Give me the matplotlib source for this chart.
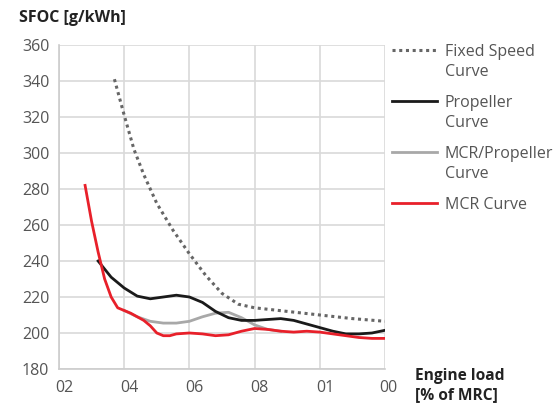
import matplotlib
matplotlib.use("Agg")
import matplotlib.pyplot as plt
from matplotlib.lines import Line2D
import matplotlib.transforms as mtransforms

plt.rcParams["font.family"] = ["Open Sans", "DejaVu Sans"]

# Data
fixed_x = [37, 40, 43, 46, 50, 55, 60, 65, 70, 75, 80, 90, 100, 110, 120]
fixed_y = [341, 321, 302, 288, 272, 257, 244, 232, 222, 216, 214, 212, 210, 208, 206.5]

prop_x = [32, 36, 40, 44, 48, 52, 56, 60, 64, 68, 72, 76, 80, 84, 88, 92, 96, 100, 104, 108, 112, 116, 120]
prop_y = [240, 231, 225, 220.5, 219, 220, 221, 220, 217, 212, 208.5, 207, 207, 207.5, 208, 207, 205, 203, 201, 199.5, 199.5, 200, 201.5]

mcrprop_x = [40, 44, 48, 52, 56, 60, 64, 68, 72, 76, 80, 84, 88]
mcrprop_y = [212.5, 209, 206.5, 205.5, 205.5, 206.5, 209, 211, 211.5, 208.5, 204.5, 202, 201]

mcr_x = [28, 30, 32, 34, 36, 38, 40, 42, 44, 46, 48, 50, 52, 54, 56, 60, 64, 68, 72, 76, 80, 84, 88, 92, 96, 100, 104, 108, 112, 116, 120]
mcr_y = [282, 262, 245, 230, 220, 214, 212.5, 211, 209, 207, 204, 200, 198.5, 198.5, 199.5, 200, 199.5, 198.5, 199, 201, 202.5, 202, 201, 200.5, 201, 200.5, 199.5, 198.5, 197.5, 197, 197]

x_ticks = [20, 40, 60, 80, 100, 120]
x_labels = ["02", "04", "06", "08", "01", "00"]
y_ticks = [180, 200, 220, 240, 260, 280, 300, 320, 340, 360]

W, H = 554, 403
fig = plt.figure(figsize=(W / 100, H / 100), dpi=100)
ax = fig.add_axes([59 / W, 34 / H, 326 / W, 324 / H])

styles = {
    "fixed": dict(color="#666666", lw=2.2, ls=(0, (1, 1.2))),
    "prop": dict(color="#1a1a1a", lw=2.0),
    "mcrprop": dict(color="#a8a8a8", lw=2.0),
    "mcr": dict(color="#e8202a", lw=2.0),
}

ax.plot(fixed_x, fixed_y, zorder=3, **styles["fixed"])
ax.plot(mcrprop_x, mcrprop_y, zorder=3, **styles["mcrprop"])
ax.plot(prop_x, prop_y, zorder=4, **styles["prop"])
ax.plot(mcr_x, mcr_y, zorder=5, **styles["mcr"])

ax.set_xlim(20, 120)
ax.set_ylim(180, 360)
ax.set_xticks(x_ticks)
ax.set_xticklabels(x_labels)
ax.set_yticks(y_ticks)
ax.grid(True, color="#d9d9d9", lw=1.2)
ax.set_axisbelow(True)
for s in ["top", "right"]:
    ax.spines[s].set_visible(False)
for s in ["left", "bottom"]:
    ax.spines[s].set_color("#cccccc")
    ax.spines[s].set_linewidth(1.2)
ax.tick_params(length=0, labelsize=11.5, colors="#555555")
ax.tick_params(axis="x", pad=8)
ax.tick_params(axis="y", pad=7)

# x labels in the source sit just right of their gridlines
shift_left = mtransforms.ScaledTranslation(-4 / 100, 0, fig.dpi_scale_trans)
shift_right = mtransforms.ScaledTranslation(3 / 100, 0, fig.dpi_scale_trans)
for i, lab in enumerate(ax.get_xticklabels()):
    if i < len(x_labels) - 1:
        lab.set_ha("left")
        lab.set_transform(lab.get_transform() + shift_left)
    else:
        lab.set_transform(lab.get_transform() + shift_right)

# legend drawn beside the plot, handle level with the first text line
legend_items = [
    ("fixed", "Fixed Speed\nCurve"),
    ("prop", "Propeller\nCurve"),
    ("mcrprop", "MCR/Propeller\nCurve"),
    ("mcr", "MCR Curve"),
]
for i, (key, text) in enumerate(legend_items):
    yc = 1 - (50 + 51 * i) / H
    fig.add_artist(Line2D([392 / W, 437 / W], [yc, yc], transform=fig.transFigure, **styles[key]))
    fig.text(445 / W, yc + 6 / H, text, fontsize=11.5, color="#555555", va="top", linespacing=1.3)

fig.text(19 / W, 1 - 18 / H, "SFOC [g/kWh]", fontsize=11.5, fontweight="bold", color="#222222", va="center")
fig.text(415 / W, 1 - 386 / H, "Engine load\n[% of MRC]", fontsize=11.2, fontweight="bold", color="#222222",
         va="center", linespacing=1.25)

fig.savefig("out.png", dpi=100)
